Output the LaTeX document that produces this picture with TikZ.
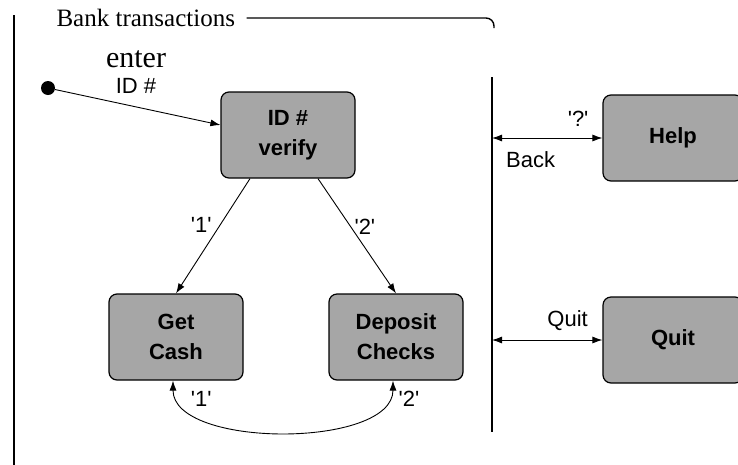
\documentclass[tikz,border=0pt]{standalone}
\usepackage{fontspec}
\setmainfont{Liberation Serif}
\setsansfont{Liberation Sans}
\usetikzlibrary{arrows.meta, positioning, calc}

\newcommand{\qt}[1]{\textquotesingle#1\textquotesingle}

\begin{document}
\begin{tikzpicture}[x=1pt, y=-1pt,
    statebox/.style={draw=black, line width=1.2pt, rounded corners=8pt, fill=black!35,
        minimum width=134pt, minimum height=86pt, align=center,
        font=\sffamily\bfseries\fontsize{22}{30}\selectfont},
    lbl/.style={font=\sffamily\fontsize{22}{26}\selectfont},
    flow/.style={-{Latex[length=10pt,width=7pt]}, line width=0.9pt},
    bothflow/.style={{Latex[length=10pt,width=7pt]}-{Latex[length=10pt,width=7pt]}, line width=0.9pt}]

    % Page size
    \useasboundingbox (0,0) rectangle (738,464);
    \clip (0,0) rectangle (738,464);

    % Title and frame
    \node[anchor=west, font=\fontsize{25}{30}\selectfont] (title) at (53,18) {Bank transactions};
    \coordinate (corner) at (494,18);
    \draw[line width=1.5pt] (14,15) -- (14,470);
    \draw[line width=1.4pt, rounded corners=8pt] ([xshift=8pt]title.east) -- (corner) -- ++(0,10);

    % Initial state
    \node[circle, fill=black, inner sep=0pt, minimum size=14pt] (init) at (48,88) {};

    % States
    \node[statebox] (verify) at (288,135) {ID \#\\verify};
    \node[statebox] (cash) at (176,337) {Get\\Cash};
    \node[statebox] (deposit) at (396,337) {Deposit\\Checks};
    \node[statebox, minimum width=140pt] (help) at (673,138) {Help};
    \node[statebox, minimum width=140pt] (quit) at (673,340) {Quit};

    % Divider
    \coordinate (divtop) at (492,77);
    \coordinate (divbot) at (492,432);
    \draw[line width=1.5pt] (divtop) -- (divbot);

    % Entry
    \draw[flow] (init) -- ([yshift=10pt]verify.west);
    \node[font=\fontsize{30}{34}\selectfont] (enter) at (136,59) {enter};
    \node[lbl, below=4pt of enter] (idnum) {ID \#};

    % Menu choices
    \draw[flow] ([xshift=-38pt]verify.south) -- node[lbl, pos=0.4, left=5pt] {\qt{1}} (cash.north);
    \draw[flow] ([xshift=30pt]verify.south) -- node[lbl, pos=0.42, right] {\qt{2}} (deposit.north);

    % Switch between the two
    \draw[bothflow] ([xshift=-3pt]cash.south) .. controls +(0,68) and +(0,68) .. ([xshift=-3pt]deposit.south)
        node[lbl, pos=0.1, right=8pt] {\qt{1}}
        node[lbl, pos=0.9, right=8pt] {\qt{2}};

    % Help and quit
    \draw[bothflow] (help.west -| divtop) -- node[lbl, pos=0.78, above=8pt] {\qt{?}}
        node[lbl, pos=0.35, below=10pt] {Back} (help.west);
    \draw[bothflow] (quit.west -| divtop) -- node[lbl, pos=0.685, above=6pt] {Quit} (quit.west);
\end{tikzpicture}
\end{document}
